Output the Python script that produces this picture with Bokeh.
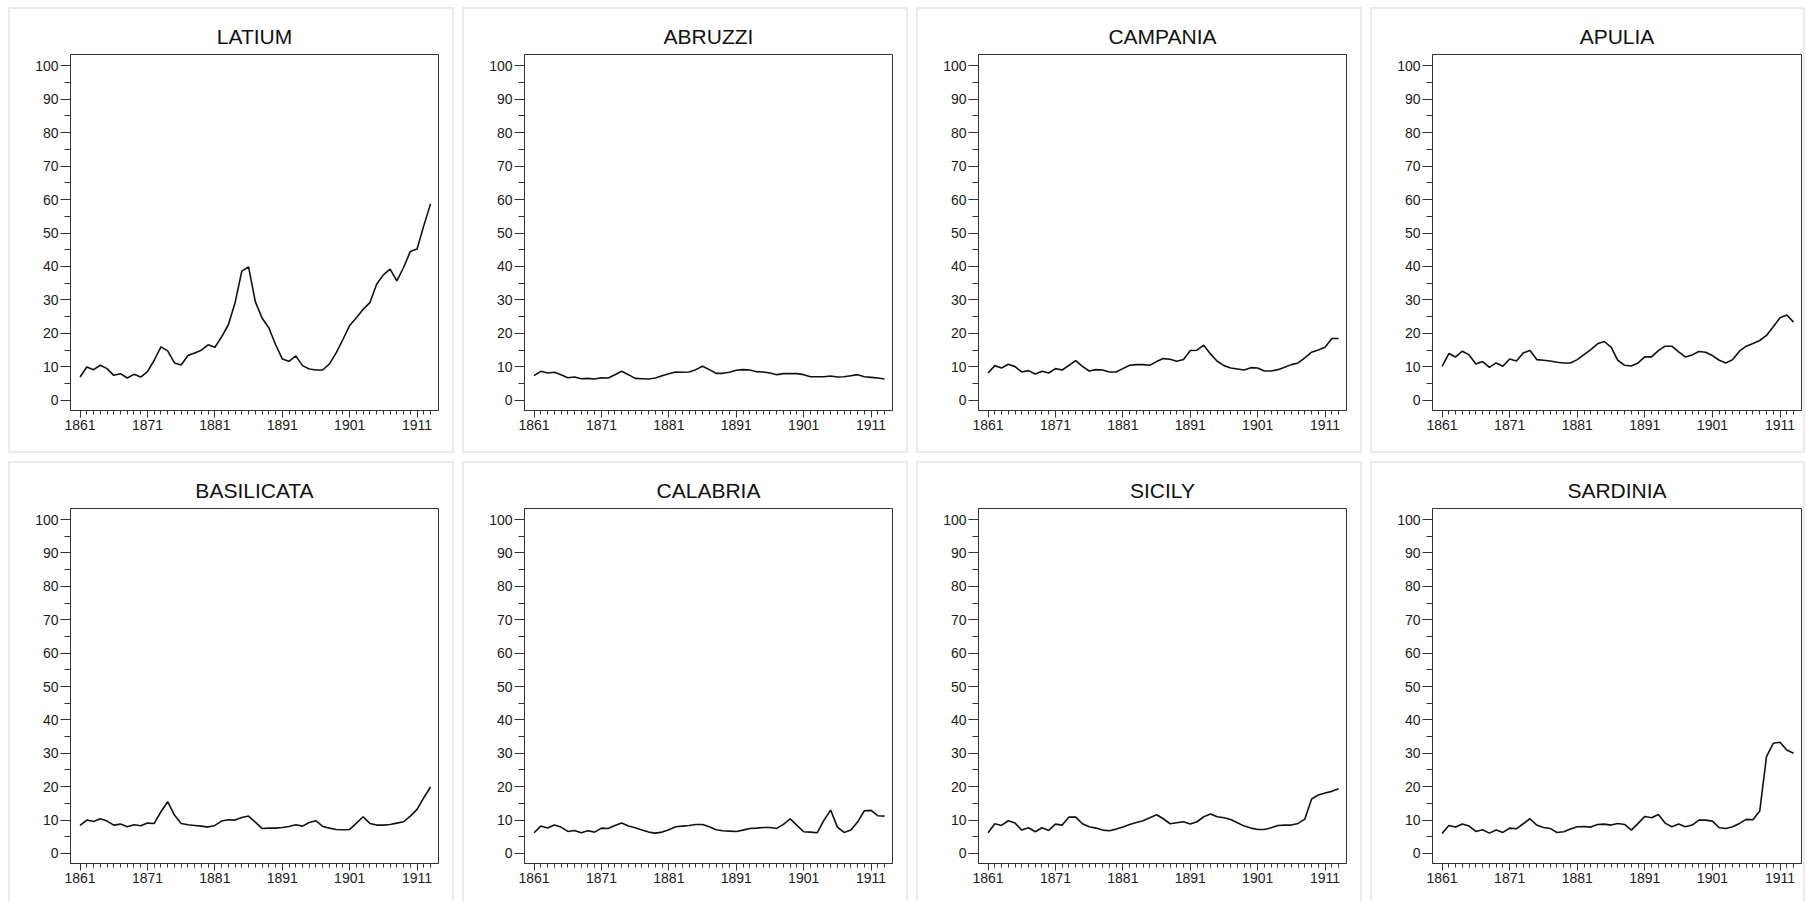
from bokeh.plotting import figure
from bokeh.layouts import row, column
from bokeh.models import FixedTicker, Range1d
from bokeh.embed import file_html
from bokeh.resources import INLINE

years = list(range(1861, 1914))
regions = ["LATIUM", "ABRUZZI", "CAMPANIA", "APULIA",
           "BASILICATA", "CALABRIA", "SICILY", "SARDINIA"]

latium = [7.0, 10.0, 9.2, 10.5, 9.5, 7.5, 8.0, 6.7, 7.8, 7.0,
          8.6, 12.0, 16.0, 14.8, 11.2, 10.6, 13.4, 14.2, 15.0, 16.6,
          15.9, 19.0, 22.6, 29.2, 38.6, 39.9, 29.5, 24.6, 21.7, 16.7,
          12.4, 11.7, 13.3, 10.4, 9.4, 9.1, 9.1, 10.9, 14.2, 18.2,
          22.4, 24.7, 27.2, 29.2, 34.7, 37.5, 39.2, 35.7, 39.7, 44.5,
          45.2, 52.2, 58.7]
abruzzi = [7.4, 8.7, 8.2, 8.4, 7.7, 6.8, 7.0, 6.5, 6.6, 6.4,
           6.8, 6.7, 7.7, 8.7, 7.7, 6.6, 6.5, 6.4, 6.7, 7.4,
           8.0, 8.5, 8.4, 8.5, 9.2, 10.2, 9.2, 8.1, 8.1, 8.4,
           9.0, 9.2, 9.1, 8.6, 8.5, 8.2, 7.7, 8.0, 8.0, 8.0,
           7.7, 7.1, 7.1, 7.1, 7.3, 7.0, 7.1, 7.4, 7.7, 7.1,
           6.9, 6.7, 6.4]
campania = [8.2, 10.4, 9.7, 10.8, 10.1, 8.5, 8.9, 7.9, 8.7, 8.2,
            9.5, 9.1, 10.5, 11.9, 10.2, 8.8, 9.2, 9.1, 8.5, 8.5,
            9.5, 10.5, 10.7, 10.7, 10.5, 11.6, 12.5, 12.3, 11.7, 12.2,
            14.9, 15.0, 16.5, 13.9, 11.7, 10.4, 9.7, 9.4, 9.1, 9.8,
            9.7, 8.8, 8.8, 9.2, 9.9, 10.7, 11.2, 12.7, 14.4, 15.1,
            15.9, 18.5, 18.5]
apulia = [10.2, 14.0, 13.0, 14.7, 13.6, 10.9, 11.6, 9.9, 11.2, 10.2,
          12.4, 11.8, 14.2, 14.9, 12.2, 12.0, 11.8, 11.4, 11.2, 11.2,
          12.2, 13.7, 15.2, 16.9, 17.6, 15.9, 12.0, 10.5, 10.3, 11.2,
          13.0, 13.0, 14.9, 16.2, 16.2, 14.5, 13.0, 13.6, 14.6, 14.4,
          13.4, 12.0, 11.2, 12.2, 14.7, 16.2, 17.0, 17.9, 19.4, 22.0,
          24.7, 25.5, 23.4]
basilicata = [8.4, 10.0, 9.6, 10.4, 9.7, 8.5, 8.8, 8.0, 8.6, 8.3,
              9.1, 9.0, 12.5, 15.5, 11.5, 9.0, 8.6, 8.4, 8.2, 7.9,
              8.4, 9.7, 10.1, 10.0, 10.8, 11.2, 9.4, 7.5, 7.6, 7.6,
              7.8, 8.1, 8.6, 8.2, 9.3, 9.8, 8.1, 7.6, 7.2, 7.1,
              7.2, 9.1, 11.0, 9.0, 8.5, 8.5, 8.7, 9.1, 9.5, 11.2,
              13.2, 16.7, 19.9]
calabria = [6.2, 8.2, 7.6, 8.5, 7.9, 6.6, 6.9, 6.2, 6.8, 6.4,
            7.6, 7.5, 8.4, 9.1, 8.2, 7.7, 7.0, 6.4, 6.1, 6.4,
            7.1, 8.0, 8.2, 8.4, 8.7, 8.7, 8.0, 7.1, 6.8, 6.7,
            6.6, 7.0, 7.5, 7.6, 7.8, 7.8, 7.5, 8.7, 10.4, 8.4,
            6.5, 6.4, 6.2, 9.9, 13.0, 7.9, 6.3, 7.0, 9.4, 12.8,
            12.9, 11.3, 11.2]
sicily = [6.2, 8.9, 8.4, 9.8, 9.1, 7.0, 7.7, 6.5, 7.7, 6.9,
          8.8, 8.5, 10.9, 10.9, 8.9, 8.0, 7.6, 7.0, 6.8, 7.3,
          7.9, 8.7, 9.3, 9.8, 10.7, 11.6, 10.4, 8.9, 9.2, 9.5,
          8.8, 9.5, 11.0, 11.8, 11.0, 10.7, 10.2, 9.2, 8.2, 7.6,
          7.2, 7.2, 7.7, 8.4, 8.5, 8.5, 9.0, 10.3, 16.3, 17.5,
          18.1, 18.6, 19.4]
sardinia = [6.0, 8.4, 7.9, 8.8, 8.2, 6.6, 7.1, 6.1, 7.0, 6.3,
            7.6, 7.4, 8.9, 10.4, 8.5, 7.8, 7.5, 6.3, 6.5, 7.3,
            8.0, 8.1, 7.9, 8.7, 8.8, 8.5, 9.0, 8.7, 7.0, 9.0,
            11.1, 10.7, 11.7, 9.1, 8.0, 8.8, 8.0, 8.5, 10.0, 10.0,
            9.7, 7.7, 7.5, 8.0, 9.0, 10.2, 10.1, 12.7, 29.0, 33.0,
            33.3, 31.0, 30.0]

series = [latium, abruzzi, campania, apulia, basilicata, calabria, sicily, sardinia]

x_major = [1861, 1871, 1881, 1891, 1901, 1911]
y_major = [0, 10, 20, 30, 40, 50, 60, 70, 80, 90, 100]
y_minor = [5, 15, 25, 35, 45, 55, 65, 75, 85, 95]

FONT = "Liberation Sans"
DARK = "#333333"


def make(name, vals, width, height, mb_right, mb_bottom, last_row):
    p = figure(width=width, height=height, output_backend="svg", toolbar_location=None,
               x_range=Range1d(1859.58, 1914.18), y_range=Range1d(-3.0, 103.3),
               min_border_left=60, min_border_right=mb_right,
               min_border_top=45, min_border_bottom=mb_bottom,
               title=name)
    p.title.align = "center"
    p.title.text_font = FONT
    p.title.text_font_size = "21px"
    p.title.text_font_style = "normal"
    p.title.text_color = "#111111"
    p.title.standoff = 13
    p.xgrid.visible = False
    p.ygrid.visible = False
    p.outline_line_color = DARK
    p.outline_line_width = 1
    p.background_fill_color = "white"
    p.border_fill_color = "white"

    xa = p.xaxis[0]
    xa.ticker = FixedTicker(ticks=x_major, minor_ticks=years)
    xa.major_tick_out = 7
    xa.major_tick_in = 0
    xa.minor_tick_out = 4
    xa.minor_tick_in = 0
    xa.major_label_standoff = 2
    ya = p.yaxis[0]
    ya.ticker = FixedTicker(ticks=y_major, minor_ticks=y_minor)
    ya.major_tick_out = 10
    ya.major_tick_in = 0
    ya.minor_tick_out = 6
    ya.minor_tick_in = 0
    ya.major_label_standoff = 2
    for ax in (xa, ya):
        ax.axis_line_color = DARK
        ax.major_tick_line_color = DARK
        ax.minor_tick_line_color = DARK
        ax.major_label_text_font = FONT
        ax.major_label_text_font_size = "14px"
        ax.major_label_text_color = "#1a1a1a"

    p.line(years, vals, line_color="#111111", line_width=1.6)

    st = {"border": "2px solid #ebebeb", "box-sizing": "border-box"}
    if last_row:
        st["border-bottom"] = "none"
    p.styles = st
    return p


figs = []
for i, (name, vals) in enumerate(zip(regions, series)):
    last_col = (i % 4 == 3)
    last_row = i >= 4
    width = 435 if last_col else 446
    height = 440 if last_row else 446
    mb_right = 6 if last_col else 18
    mb_bottom = 40 if last_row else 45
    figs.append(make(name, vals, width, height, mb_right, mb_bottom, last_row))

layout = column(row(figs[:4], spacing=8), row(figs[4:], spacing=8), spacing=8)
layout.styles = {"margin-left": "8px", "margin-top": "7px"}

open("out.html", "w").write(file_html(layout, INLINE))
